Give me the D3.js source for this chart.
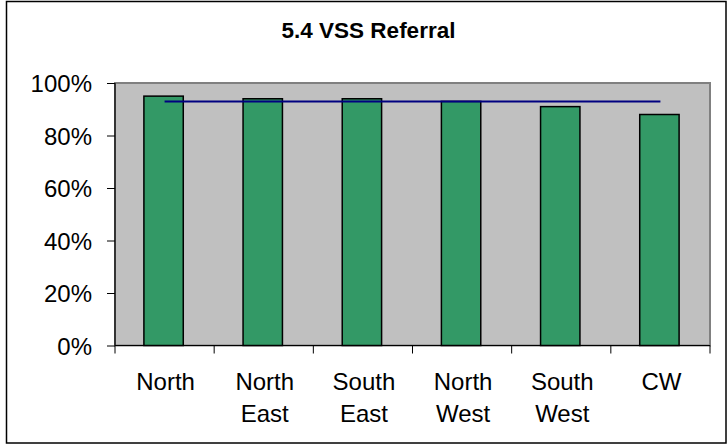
<!DOCTYPE html>
<html><head><meta charset="utf-8">
<script src="https://cdn.jsdelivr.net/npm/d3@7"></script>
<style>body{margin:0;background:#fff}svg{display:block}text{font-family:"Liberation Sans",Arial,sans-serif}</style>
</head><body>
<svg id="c" width="727" height="445"></svg>
<script>
const categories = [["North"],["North","East"],["South","East"],["North","West"],["South","West"],["CW"]];
const categoryKeys = ["North","North East","South East","North West","South West","CW"];
const barValues = [0.95, 0.94, 0.94, 0.93, 0.91, 0.88];
const lineValues = [0.93, 0.93, 0.93, 0.93, 0.93, 0.93];
const yTicks = [0, 0.2, 0.4, 0.6, 0.8, 1.0];
const title = "5.4 VSS Referral";

const svg = d3.select("#c");
// outer frame
svg.append("rect").attr("x",6.5).attr("y",1.5).attr("width",719.5).attr("height",441.5)
  .attr("fill","none").attr("stroke","#000").attr("stroke-width",1.5);

const L=115, R=710, T=83, B=345.5;
const x = d3.scaleBand().domain(categoryKeys).range([L,R]).paddingInner(0).paddingOuter(0);
const y = d3.scaleLinear().domain([0,1]).range([B,T]);

svg.append("rect").attr("x",L).attr("y",T).attr("width",R-L).attr("height",B-T)
  .attr("fill","#C0C0C0").attr("stroke","#808080").attr("stroke-width",2);

const bw = x.bandwidth()*0.397;
svg.selectAll("rect.bar").data(barValues).join("rect").attr("class","bar")
  .attr("x",(d,i)=>x(categoryKeys[i])+x.bandwidth()/2-bw/2-1)
  .attr("y",d=>y(d)).attr("width",bw).attr("height",d=>B-y(d))
  .attr("fill","#339966").attr("stroke","#000").attr("stroke-width",1.5);

const line = d3.line().x((d,i)=>x(categoryKeys[i])+x.bandwidth()/2).y(d=>y(d));
svg.append("path").datum(lineValues).attr("d",line).attr("fill","none").attr("stroke","#000080").attr("stroke-width",2);

// y axis
const ya = svg.append("g").attr("transform",`translate(${L},0)`)
  .call(d3.axisLeft(y).tickValues(yTicks).tickSize(8).tickPadding(15).tickFormat(d3.format(".0%")));
ya.select(".domain").attr("stroke","#000").attr("stroke-width",1.2).attr("d",`M0,${T}V${B}`);
ya.selectAll(".tick line").attr("stroke","#000");
ya.selectAll(".tick text").attr("font-size",24).attr("fill","#000").attr("font-family","Liberation Sans, Arial, sans-serif").attr("dy","0.36em");

// x axis
const xa = svg.append("g").attr("transform",`translate(0,${B})`)
  .call(d3.axisBottom(x).tickSize(0).tickFormat(""));
xa.select(".domain").attr("stroke","#000").attr("stroke-width",1.2).attr("d",`M${L},0H${R}`);
const bounds = d3.range(categoryKeys.length+1).map(i=>L+i*x.bandwidth());
xa.selectAll("line.bt").data(bounds).join("line").attr("class","bt")
  .attr("x1",d=>d).attr("x2",d=>d).attr("y1",0).attr("y2",8).attr("stroke","#000");
const lbl = svg.append("g");
categories.forEach((lines,i)=>{
  const cx = x(categoryKeys[i])+x.bandwidth()/2+1;
  const t = lbl.append("text").attr("text-anchor","middle").attr("font-size",24).attr("fill","#000");
  lines.forEach((s,j)=>t.append("tspan").attr("x",cx).attr("y",390+j*32).text(s));
});

svg.append("text").attr("x",368.5).attr("y",38.3).attr("text-anchor","middle")
  .attr("font-size",22.5).attr("font-weight","bold").attr("fill","#000").text(title);
</script>
</body></html>
